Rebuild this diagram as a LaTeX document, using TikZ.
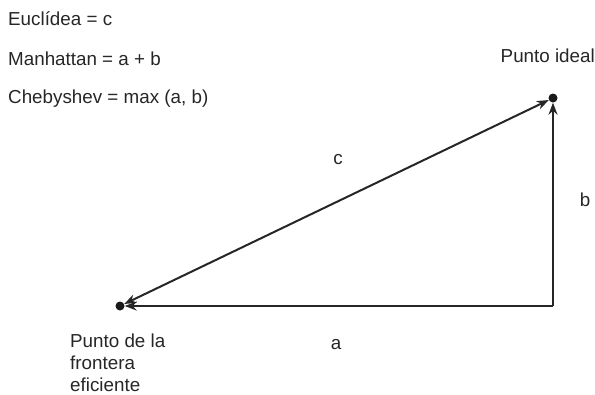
\documentclass[tikz,border=0pt]{standalone}
\usepackage{fontspec}
\setmainfont{Liberation Sans}
\usetikzlibrary{arrows.meta}
\begin{document}
\begin{tikzpicture}[x=1pt,y=-1pt,
  lbl/.style={font=\fontsize{18.8}{22}\selectfont, inner sep=0pt, text=black!85},
  dot/.style={circle, fill=black!90, inner sep=0pt, minimum size=9pt},
  conn/.style={line width=2pt, draw=black!85, -{Stealth[length=12pt,width=9pt]}},
  conn2/.style={line width=2pt, draw=black!85, {Stealth[length=12pt,width=9pt]}-{Stealth[length=12pt,width=9pt]}}]
\useasboundingbox (0,0) rectangle (595,394);
\node[lbl, anchor=base west] (t1) at (8,25) {Euclídea = c};
\node[lbl, anchor=base west] (t2) at (8,65) {Manhattan = a + b};
\node[lbl, anchor=base west] (t3) at (8,103) {Chebyshev = max (a, b)};
\node[dot] (ideal) at (553,98) {};
\node[dot] (eff) at (120,306) {};
\coordinate (corner) at (553,306);
\draw[conn] (corner) -- (eff);
\draw[conn] (corner) -- (ideal);
\draw[conn2] (eff) -- (ideal);
\node[lbl, anchor=base east] (pi) at (595,62) {Punto ideal};
\node[lbl, anchor=base] (lc) at (338,164) {c};
\node[lbl, anchor=base] (lb) at (585,206) {b};
\node[lbl, anchor=base] (la) at (336,349) {a};
\node[lbl, anchor=base west] (pf1) at (70,347) {Punto de la};
\node[lbl, anchor=base west] (pf2) at (70,369) {frontera};
\node[lbl, anchor=base west] (pf3) at (70,391) {eficiente};
\end{tikzpicture}
\end{document}
